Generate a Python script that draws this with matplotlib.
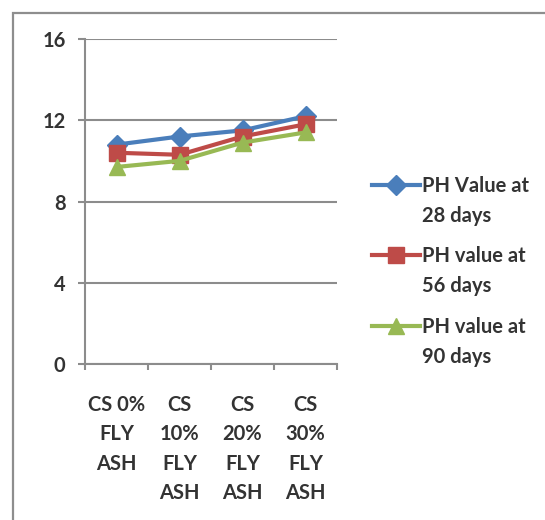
import matplotlib
matplotlib.use("Agg")
import matplotlib.pyplot as plt
from matplotlib.lines import Line2D
from matplotlib.patches import Rectangle
from matplotlib.ticker import FixedLocator, NullFormatter

categories = ["CS 0%\nFLY\nASH", "CS\n10%\nFLY\nASH", "CS\n20%\nFLY\nASH", "CS\n30%\nFLY\nASH"]
ph_28 = [10.8, 11.2, 11.5, 12.2]
ph_56 = [10.4, 10.3, 11.2, 11.8]
ph_90 = [9.7, 10.0, 10.9, 11.4]
series_labels = ["PH Value at\n28 days", "PH value at\n56 days", "PH value at\n90 days"]
y_ticks = [0, 4, 8, 12, 16]

colors = ["#4A7EBB", "#BE4B48", "#98B954"]
markers = ["D", "s", "^"]
msizes = [10, 11, 12]
text_color = "#333333"
grid_color = "#8C8C8C"
font = ["Lato", "DejaVu Sans"]
fsize = 14.5

W, H = 545, 520
fig = plt.figure(figsize=(W / 100, H / 100), dpi=100)
fig.patch.set_facecolor("white")

def px(x, y):
    return x / W, 1 - y / H

# outer chart frame
fig.add_artist(Rectangle(px(13, 600), 1.2, (600 - 13) / H, transform=fig.transFigure,
                         fill=False, edgecolor="#8E8E8E", linewidth=1.6, clip_on=False))

l, b = px(85, 364)
r, t = px(337, 39)
ax = fig.add_axes([l, b, r - l, t - b])

xs = list(range(1, len(categories) + 1))
for vals, c, m, ms in zip([ph_28, ph_56, ph_90], colors, markers, msizes):
    ax.plot(xs, vals, color=c, linewidth=3.0, marker=m, markersize=ms,
            markerfacecolor=c, markeredgecolor=c, zorder=3, clip_on=False)

ax.set_xlim(0.5, len(categories) + 0.5)
ax.set_ylim(0, 16)
ax.set_yticks(y_ticks)
ax.set_yticklabels([str(v) for v in y_ticks], fontfamily=font, fontweight="bold",
                   fontsize=fsize, color=text_color)
ax.grid(axis="y", color=grid_color, linewidth=1.5, zorder=0)
ax.set_axisbelow(True)

ax.xaxis.set_major_locator(FixedLocator([i + 0.5 for i in range(len(categories) + 1)]))
ax.xaxis.set_major_formatter(NullFormatter())
ax.set_xticks(xs, minor=True)
ax.set_xticklabels(categories, minor=True, fontfamily=font, fontweight="bold",
                   fontsize=fsize, color=text_color, linespacing=1.6, va="top", ha="center")
ax.tick_params(axis="x", which="major", length=4, width=1.5, color=grid_color, direction="out")
ax.tick_params(axis="x", which="minor", length=0, pad=22)
ax.tick_params(axis="y", length=5, width=1.5, color=grid_color, direction="out", pad=9)

for side in ["top", "right"]:
    ax.spines[side].set_visible(False)
for side in ["left", "bottom"]:
    ax.spines[side].set_color(grid_color)
    ax.spines[side].set_linewidth(1.5)

# legend entries drawn beside the plot
legend_rows = [185, 255, 326]
for lab, c, m, ms, yy in zip(series_labels, colors, markers, msizes, legend_rows):
    x0, y0 = px(372, yy)
    x1, _ = px(420, yy)
    xm, _ = px(396, yy)
    fig.add_artist(Line2D([x0, x1], [y0, y0], color=c, linewidth=3.0, transform=fig.transFigure))
    fig.add_artist(Line2D([xm], [y0], marker=m, markersize=ms, color=c, markerfacecolor=c,
                          markeredgecolor=c, transform=fig.transFigure))
    tx, ty = px(422, yy - 9)
    fig.text(tx, ty, lab, fontfamily=font, fontweight="bold", fontsize=fsize, color=text_color,
             ha="left", va="top", linespacing=1.6)

fig.savefig("out.png", dpi=100, facecolor="white")
